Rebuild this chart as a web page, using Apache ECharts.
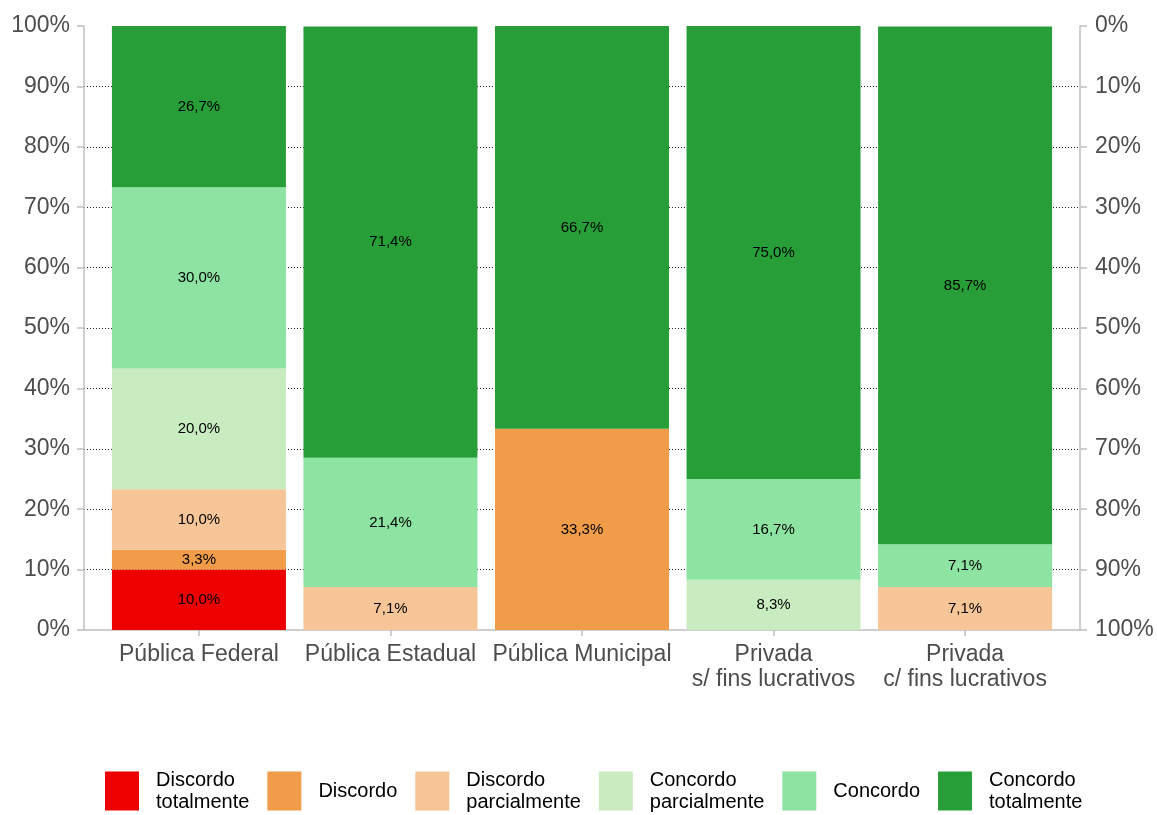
<!DOCTYPE html>
<html>
<head>
<meta charset="utf-8">
<script src="https://cdn.jsdelivr.net/npm/echarts@6/dist/echarts.min.js"></script>
<style>
  html, body { margin: 0; padding: 0; background: #ffffff; }
  #chart { width: 1157px; height: 815px; }
</style>
</head>
<body>
<div id="chart"></div>
<script>
// Institution types along the x axis
const categories = [
  'Pública Federal',
  'Pública Estadual',
  'Pública Municipal',
  'Privada\ns/ fins lucrativos',
  'Privada\nc/ fins lucrativos'
];

// Response levels, bottom of the stack first
const levels = [
  'Discordo\ntotalmente',
  'Discordo',
  'Discordo\nparcialmente',
  'Concordo\nparcialmente',
  'Concordo',
  'Concordo\ntotalmente'
];

// Share of answers (%) per institution type
const discordoTotalmente   = [10.0, 0,    0,    0,    0];
const discordo             = [3.3,  0,    33.3, 0,    0];
const discordoParcialmente = [10.0, 7.1,  0,    0,    7.1];
const concordoParcialmente = [20.0, 0,    0,    8.3,  0];
const concordo             = [30.0, 21.4, 0,    16.7, 7.1];
const concordoTotalmente   = [26.7, 71.4, 66.7, 75.0, 85.7];

const percentTicks = [0, 10, 20, 30, 40, 50, 60, 70, 80, 90, 100];

const levelValues = [
  discordoTotalmente, discordo, discordoParcialmente,
  concordoParcialmente, concordo, concordoTotalmente
];
const levelColors = ['#ED0000', '#F09C48', '#F7C698', '#C8ECC0', '#8DE3A2', '#289E38'];

const axisGray = '#BFBFBF';
const labelGray = '#4D4D4D';
const fontFamily = '"Liberation Sans", Arial, sans-serif';
const catPositions = categories.map((c, i) => i + 1);

// Outer frame spans the axis lines; the bar grid sits inside it with
// 0.6 of a category step of padding on each side.
const frame = { left: 84, right: 77, top: 26, bottom: 185 };
const step = (1157 - frame.left - frame.right) / 5.2;
const barGrid = {
  left: frame.left + 0.1 * step,
  right: frame.right + 0.1 * step,
  top: frame.top,
  bottom: frame.bottom
};

const chart = echarts.init(document.getElementById('chart'), null, { renderer: 'canvas' });

const series = levels.map((name, k) => ({
  name: name,
  type: 'bar',
  stack: 'total',
  xAxisIndex: 1,
  yAxisIndex: 2,
  barWidth: 174,
  itemStyle: { color: levelColors[k] },
  emphasis: { disabled: true },
  label: {
    show: true,
    position: 'inside',
    color: '#000000',
    fontSize: 15,
    fontFamily: fontFamily,
    formatter: p => p.value ? p.value.toFixed(1).replace('.', ',') + '%' : ''
  },
  data: levelValues[k]
}));

const yAxisCommon = {
  type: 'value',
  gridIndex: 0,
  min: percentTicks[0],
  max: percentTicks[percentTicks.length - 1],
  interval: 10,
  axisLine: { show: true, lineStyle: { color: axisGray, width: 1.5 } },
  axisTick: { show: true, length: 7, lineStyle: { color: axisGray, width: 1.5 } },
  axisLabel: {
    formatter: '{value}%',
    fontSize: 23,
    color: labelGray,
    fontFamily: fontFamily
  }
};

chart.setOption({
  backgroundColor: '#ffffff',
  animation: false,
  grid: [
    Object.assign({ containLabel: false }, frame),
    Object.assign({ containLabel: false }, barGrid)
  ],
  legend: {
    left: 100,
    top: 764,
    itemWidth: 34,
    itemHeight: 39,
    itemGap: 18,
    icon: 'rect',
    selectedMode: false,
    data: levels,
    textStyle: {
      fontSize: 20,
      lineHeight: 22,
      color: '#000000',
      fontFamily: fontFamily,
      padding: [0, 0, 0, 12]
    }
  },
  xAxis: [
    {
      type: 'value',
      gridIndex: 0,
      min: 0.4,
      max: 5.6,
      splitLine: { show: false },
      axisLine: { show: true, onZero: false, lineStyle: { color: axisGray, width: 1.5 } },
      axisTick: { show: true, length: 6, customValues: catPositions, lineStyle: { color: axisGray, width: 1.5 } },
      axisLabel: {
        customValues: catPositions,
        formatter: v => categories[Math.round(v) - 1],
        fontSize: 23,
        lineHeight: 25,
        color: labelGray,
        fontFamily: fontFamily,
        margin: 12
      }
    },
    {
      type: 'category',
      gridIndex: 1,
      data: categories,
      show: false
    }
  ],
  yAxis: [
    Object.assign({}, yAxisCommon, {
      position: 'left',
      splitLine: {
        show: true,
        showMinLine: false,
        showMaxLine: false,
        lineStyle: { color: '#222222', width: 1, type: [1, 2] }
      },
      axisLabel: Object.assign({}, yAxisCommon.axisLabel, { margin: 14 })
    }),
    Object.assign({}, yAxisCommon, {
      position: 'right',
      inverse: true,
      splitLine: { show: false },
      axisLabel: Object.assign({}, yAxisCommon.axisLabel, { margin: 15 })
    }),
    {
      type: 'value',
      gridIndex: 1,
      min: percentTicks[0],
      max: percentTicks[percentTicks.length - 1],
      show: false
    }
  ],
  series: series
});
</script>
</body>
</html>
